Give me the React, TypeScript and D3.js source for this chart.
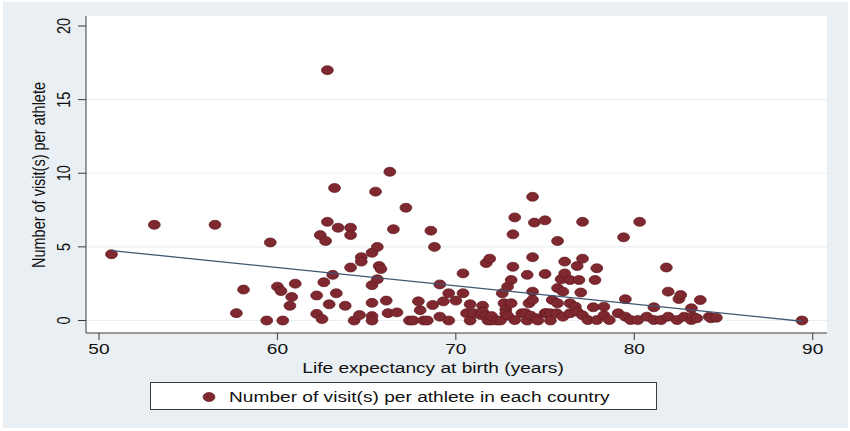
import React from "react";
import * as d3 from "d3";

// Life expectancy at birth (years)
const lifeExpectancy: number[] = [
  50.7, 53.1, 56.5, 57.7, 58.1, 59.4, 59.6, 60.0, 60.2, 60.3, 60.7, 60.8, 61.0,
  62.2, 62.2, 62.4, 62.5, 62.6, 62.7, 62.8, 62.8, 62.9, 63.1, 63.2, 63.3, 63.4,
  63.8, 64.1, 64.1, 64.1, 64.3, 64.6, 64.7, 64.7, 65.3, 65.3, 65.3, 65.3, 65.3,
  65.5, 65.6, 65.6, 65.7, 65.8, 66.1, 66.2, 66.3, 66.5, 66.7, 67.2, 67.4, 67.6,
  67.9, 68.0, 68.2, 68.4, 68.6, 68.7, 68.8, 69.1, 69.1, 69.3, 69.6, 69.6, 70.0,
  70.4, 70.4, 70.6, 70.8, 70.8, 71.0, 71.4, 71.5, 71.5, 71.7, 71.7, 71.8, 71.9,
  72.0, 72.0, 72.3, 72.5, 72.6, 72.7, 72.8, 72.8, 72.9, 72.9, 73.1, 73.1, 73.2,
  73.2, 73.3, 73.3, 73.7, 73.9, 74.0, 74.0, 74.1, 74.2, 74.3, 74.3, 74.3, 74.3,
  74.4, 74.5, 74.6, 75.0, 75.0, 75.0, 75.1, 75.3, 75.3, 75.4, 75.65, 75.7, 75.7,
  75.7, 75.9, 76.0, 76.0, 76.1, 76.1, 76.4, 76.4, 76.4, 76.7, 76.8, 76.8, 76.9,
  77.0, 77.1, 77.1, 77.1, 77.4, 77.7, 77.8, 77.9, 77.9, 78.3, 78.3, 78.6, 79.1,
  79.4, 79.5, 79.5, 79.8, 80.2, 80.3, 80.7, 81.1, 81.1, 81.5, 81.8, 81.9, 81.9,
  82.4, 82.5, 82.6, 82.8, 83.2, 83.2, 83.3, 83.5, 83.7, 84.2, 84.3, 84.6, 89.4,
];

// Number of visit(s) per athlete in each country
const visitsPerAthlete: number[] = [
  4.5, 6.5, 6.5, 0.5, 2.1, 0.0, 5.3, 2.3, 2.0, 0.0, 1.0, 1.6, 2.5,
  1.7, 0.45, 5.8, 0.1, 2.6, 5.4, 6.7, 17.0, 1.1, 3.1, 9.0, 1.85, 6.3,
  1.0, 6.3, 5.8, 3.6, 0.0, 0.37, 4.3, 4.0, 4.6, 2.4, 1.2, 0.3, 0.0,
  8.75, 5.0, 2.8, 3.7, 3.5, 1.35, 0.5, 10.1, 6.2, 0.55, 7.66, 0.0, 0.0,
  1.3, 0.7, 0.0, 0.0, 6.1, 1.05, 5.0, 2.45, 0.26, 1.3, 1.85, 0.0, 1.35,
  3.2, 1.85, 0.49, 1.1, 0.0, 0.5, 0.37, 1.0, 0.6, 3.9, 0.33, 0.0, 4.2,
  0.0, 0.3, 0.0, 0.0, 1.85, 1.17, 0.76, 0.49, 2.3, 0.33, 2.75, 1.17, 5.85,
  3.65, 7.0, 0.03, 0.49, 0.5, 3.1, 0.0, 1.17, 0.33, 8.4, 4.3, 1.96, 1.4,
  6.65, 0.15, 0.0, 6.8, 3.16, 0.5, 0.49, 0.49, 0.0, 1.4, 0.49, 5.4, 2.2,
  1.17, 2.8, 1.96, 0.26, 4.0, 3.2, 2.75, 1.17, 0.49, 0.94, 3.7, 0.6, 2.75,
  1.9, 6.7, 4.2, 0.35, 0.03, 0.9, 2.75, 3.55, 0.03, 0.94, 0.35, 0.03, 0.49,
  5.65, 1.45, 0.26, 0.03, 0.03, 6.7, 0.26, 0.9, 0.03, 0.03, 3.6, 1.96, 0.26,
  0.03, 1.46, 1.73, 0.26, 0.83, 0.03, 0.26, 0.15, 1.39, 0.26, 0.15, 0.19, 0.0,
];

// Fitted regression line (end points)
const fitX: number[] = [50.7, 89.4];
const fitY: number[] = [4.75, -0.05];

const xTicks: number[] = [50, 60, 70, 80, 90];
const yTicks: number[] = [0, 5, 10, 15, 20];
const gridValues: number[] = [0, 5, 10, 15];

const xTitle = "Life expectancy at birth (years)";
const yTitle = "Number of visit(s) per athlete";
const legendLabel = "Number of visit(s) per athlete in each country";

const W = 850;
const H = 431;
const SX = 1.32; // horizontal stretch of the original picture
const FONT = "'Liberation Sans', Arial, Helvetica, sans-serif";
const FS = 14.5;

const PLOT = { left: 86, right: 827, top: 16, bottom: 333 };

export default function App() {
  const x = d3.scaleLinear().domain([50, 90]).range([99, 812.7]);
  const y = d3.scaleLinear().domain([0, 20]).range([320.5, 26]);

  const line = d3
    .line<[number, number]>()
    .x((d) => x(d[0]))
    .y((d) => y(d[1]));
  const fitPts: [number, number][] = fitX.map((v, i) => [v, fitY[i]]);

  const markerFill = "#80282f";
  const markerStroke = "#5e1a20";
  const rx = 4.5 * SX;
  const ry = 4.5;

  return (
    <svg
      width={W}
      height={H}
      style={{ position: "absolute", left: 0, top: 0, display: "block" }}
      fontFamily={FONT}
    >
      <rect x={0} y={0} width={W} height={H} fill="#ffffff" />
      <rect x={3} y={2} width={845} height={426} fill="#eaeff3" />
      <rect
        x={PLOT.left}
        y={PLOT.top}
        width={PLOT.right - PLOT.left}
        height={PLOT.bottom - PLOT.top}
        fill="#ffffff"
      />
      {gridValues.map((v) => (
        <line
          key={"g" + v}
          x1={PLOT.left}
          x2={PLOT.right}
          y1={y(v)}
          y2={y(v)}
          stroke="#eaeff3"
          strokeWidth={1.2}
        />
      ))}

      {/* points */}
      {lifeExpectancy.map((le, i) => (
        <ellipse
          key={"p" + i}
          cx={x(le)}
          cy={y(visitsPerAthlete[i])}
          rx={rx}
          ry={ry}
          fill={markerFill}
          stroke={markerStroke}
          strokeWidth={0.7}
        />
      ))}

      {/* fitted line */}
      <path d={line(fitPts) || ""} fill="none" stroke="#3f5670" strokeWidth={1.3} />

      {/* axes */}
      <line x1={PLOT.left} x2={PLOT.left} y1={PLOT.top} y2={PLOT.bottom} stroke="#3a3a3a" strokeWidth={1} />
      <line x1={PLOT.left} x2={PLOT.right} y1={PLOT.bottom} y2={PLOT.bottom} stroke="#3a3a3a" strokeWidth={1} />

      {yTicks.map((v) => (
        <g key={"yt" + v}>
          <line x1={PLOT.left - 8} x2={PLOT.left} y1={y(v)} y2={y(v)} stroke="#3a3a3a" strokeWidth={1} />
          <text
            transform={`translate(70,${y(v)}) scale(${SX},1) rotate(-90)`}
            textAnchor="middle"
            fontSize={FS}
            fill="#111"
          >
            {v}
          </text>
        </g>
      ))}

      {xTicks.map((v) => (
        <g key={"xt" + v}>
          <line x1={x(v)} x2={x(v)} y1={PLOT.bottom} y2={PLOT.bottom + 7} stroke="#3a3a3a" strokeWidth={1} />
          <text
            transform={`translate(${x(v)},354) scale(${SX},1)`}
            textAnchor="middle"
            fontSize={FS}
            fill="#111"
          >
            {v}
          </text>
        </g>
      ))}

      {/* axis titles */}
      <text
        transform={`translate(433,373) scale(${SX},1)`}
        textAnchor="middle"
        fontSize={FS}
        fill="#111"
      >
        {xTitle}
      </text>
      <text
        transform={`translate(45,175) scale(${SX},1) rotate(-90)`}
        textAnchor="middle"
        fontSize={FS}
        fill="#111"
      >
        {yTitle}
      </text>

      {/* legend */}
      <rect x={150.5} y={382.5} width={506} height={27} fill="#ffffff" stroke="#3a3a3a" strokeWidth={1} />
      <ellipse cx={209} cy={397} rx={rx} ry={ry} fill={markerFill} stroke={markerStroke} strokeWidth={0.7} />
      <text
        transform={`translate(229,402) scale(${SX},1)`}
        textAnchor="start"
        fontSize={FS}
        fill="#111"
      >
        {legendLabel}
      </text>
    </svg>
  );
}
